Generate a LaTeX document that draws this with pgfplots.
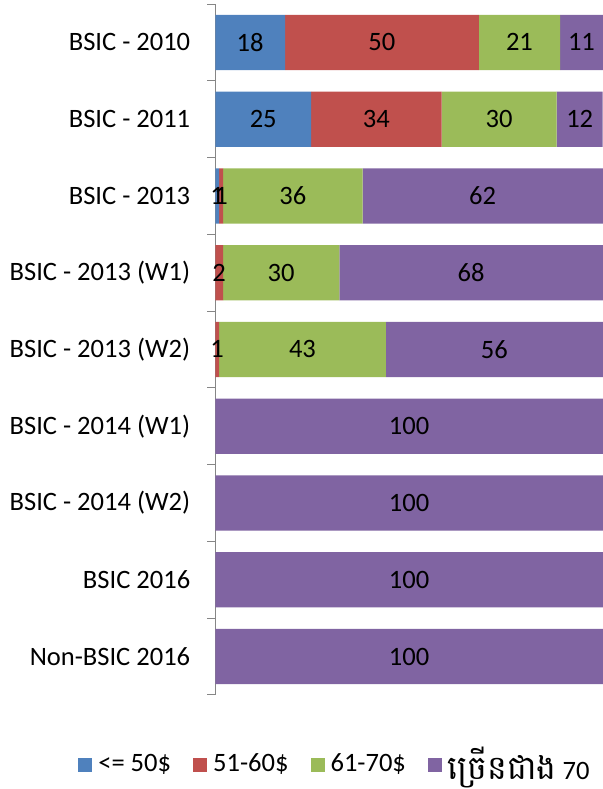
\documentclass[border=0pt]{standalone}
\usepackage{fontspec}
\setmainfont{Carlito}
\newfontfamily\khmerfont[Script=Khmer,Scale=1.25]{Battambang}
\usepackage{pgfplots}
\pgfplotsset{compat=1.18}
\usepackage{pgfplotstable}
\definecolor{cblue}{HTML}{4F81BD}
\definecolor{cred}{HTML}{C0504D}
\definecolor{cgreen}{HTML}{9BBB59}
\definecolor{cpurple}{HTML}{8064A2}
\definecolor{axgray}{HTML}{868686}

\pgfplotstableread{
y a b c d
0 18 50 21 11
1 24.75 33.66 29.70 11.88
2 1 1 36 62
3 0 2 30 68
4 0 1 43 56
5 0 0 0 100
6 0 0 0 100
7 0 0 0 100
8 0 0 0 100
}\data

\begin{document}
\fontsize{26.5bp}{32bp}\selectfont
\begin{tikzpicture}
\begin{axis}[
  scale only axis,
  width=387bp, height=690bp,
  xbar stacked,
  bar width=0.72,
  xmin=0, xmax=100,
  ymin=-0.5, ymax=8.5,
  y dir=reverse,
  axis x line=none,
  axis y line*=left,
  y axis line style={draw=axgray, line width=1pt},
  ytick={0,...,8},
  yticklabels={BSIC - 2010, BSIC - 2011, BSIC - 2013, BSIC - 2013 (W1), BSIC - 2013 (W2), BSIC - 2014 (W1), BSIC - 2014 (W2), BSIC 2016, Non-BSIC 2016},
  major tick length=0pt,
  minor ytick={-0.5,0.5,...,8.5},
  minor tick length=8bp,
  tick align=outside,
  minor tick style={draw=axgray, line width=1pt},
  yticklabel style={font=\fontsize{26.5bp}{32bp}\selectfont, xshift=-16bp},
  /pgf/number format/assume math mode=true,
  point meta=rawx,
  nodes near coords={\pgfmathfloatifflags{\pgfplotspointmeta}{0}{}{\pgfmathprintnumber[fixed,precision=0]{\pgfplotspointmeta}}},
  nodes near coords style={font=\fontsize{26.5bp}{32bp}\selectfont, text=black},
  legend style={draw=none, fill=none, inner sep=0pt, at={(-0.354,-0.1014)}, anchor=west,
    legend columns=-1, font=\fontsize{26.5bp}{32bp}\selectfont,
    /tikz/every even column/.append style={column sep=16bp},
    nodes={inner xsep=6bp, inner ysep=3bp}},
  legend image code/.code={\fill[#1] (0bp,-7bp) rectangle (14bp,7bp);},
  clip=false,
]
\coordinate (sw) at (rel axis cs:0,0);
\coordinate (ne) at (rel axis cs:1,1);
\addplot[fill=cblue, draw=none] table[x=a, y=y] {\data};
\addplot[fill=cred, draw=none] table[x=b, y=y] {\data};
\addplot[fill=cgreen, draw=none] table[x=c, y=y] {\data};
\addplot[fill=cpurple, draw=none] table[x=d, y=y] {\data};
\legend{<= 50\$, 51-60\$, 61-70\$, {{\khmerfont ច្រើនជាង} 70}}
\end{axis}
\pgfresetboundingbox
\path[use as bounding box] ([shift={(-215bp,-94bp)}]sw) rectangle ([shift={(0bp,4bp)}]ne);
\end{tikzpicture}
\end{document}
